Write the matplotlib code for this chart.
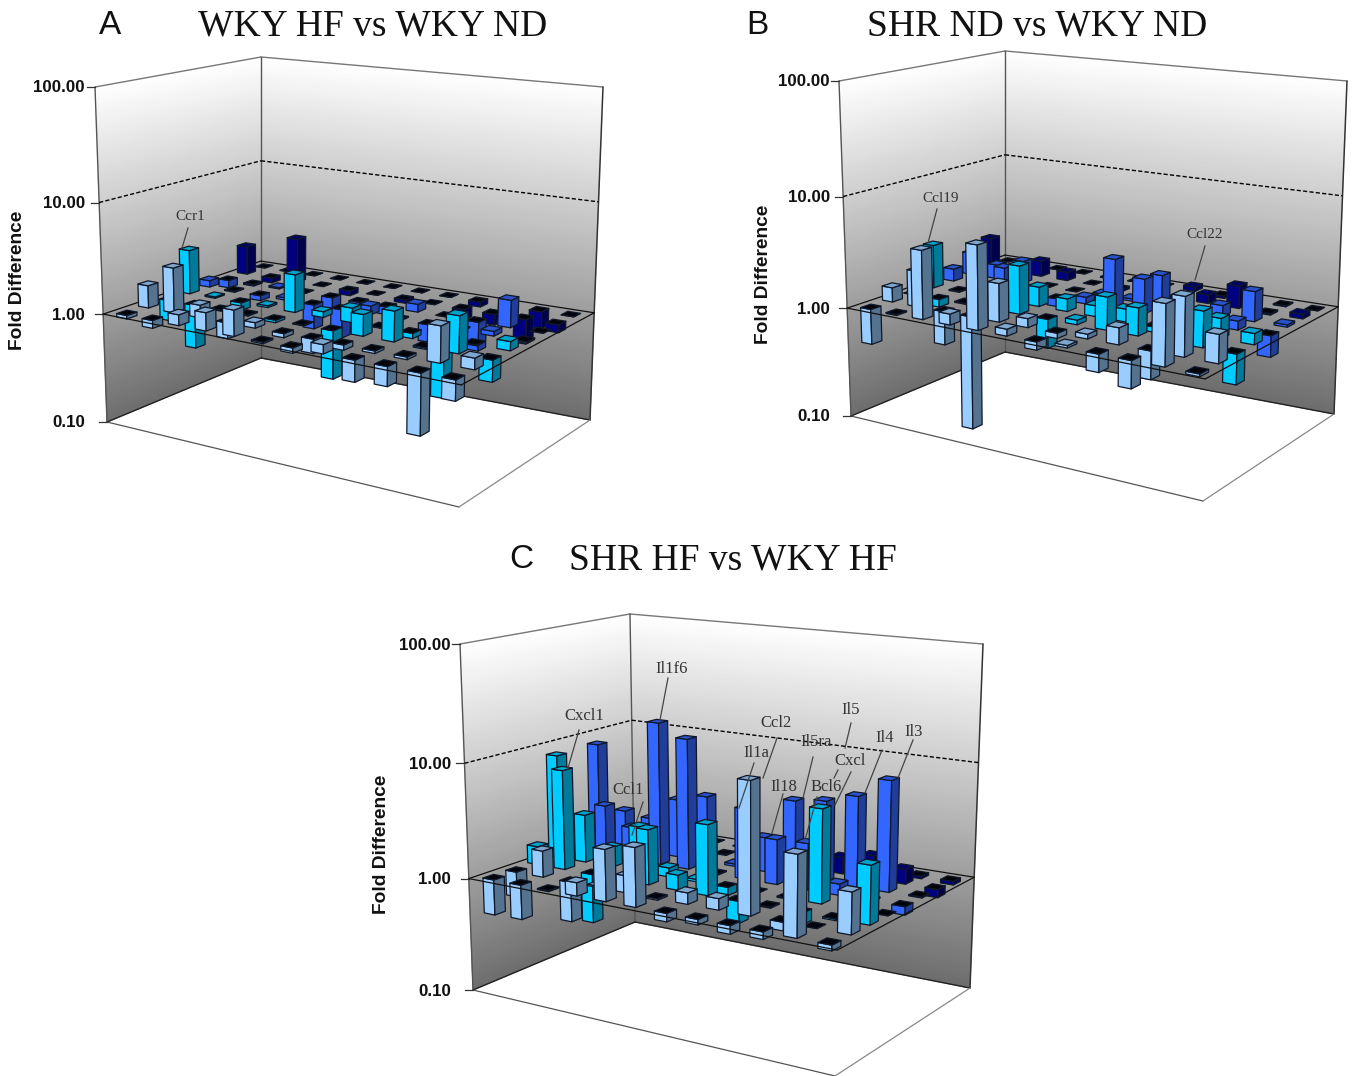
"""Three 3D-style fold-difference bar plates, drawn on one pixel-sized axes."""
import matplotlib

matplotlib.use("Agg")
import matplotlib.pyplot as plt
import numpy as np
from matplotlib.patches import Polygon

# rows run from the front of the plate (0) to the back (7), 12 wells per row
VALUES_A = [
    [.93, .85, 1.25, 1.45, 1.7, .97, .9, 1.2, .65, .68, .3, .67],
    [1.6, 2.55, 1.3, .72, 1.12, .92, .75, .9, .95, .95, 2.05, 1.25],
    [.65, .4, .98, .98, .95, .99, .37, 1.55, 1.85, .97, 2.1, .65],
    [2.55, 1.03, .85, 1.04, 2.2, 1.13, 1.35, .99, .9, .3, .98, 1.2],
    [1.15, .98, .9, 1.05, .6, .55, 1.2, .98, .7, .98, 1.1, .97],
    [.85, .97, 1.03, 1.0, .75, .92, .85, 1.18, 1.0, .55, 1.75, 1.0],
    [1.85, .9, 2.6, 1.0, .9, 1.0, .93, 1.0, .8, .8, .6, .85],
    [1.0, 1.0, 1.0, 1.0, 1.0, 1.0, 1.0, 1.0, .9, .9, .7, 1.0],
]
VALUES_B = [
    [.48, .98, 4.1, 1.25, 5.5, 1.15, .85, 1.05, .7, .58, 3.3, .95],
    [1.35, 2.1, .5, .095, 2.2, 1.2, .9, 1.1, 1.4, .57, 3.2, 1.75],
    [1.0, .85, 1.02, .98, 2.7, .55, 1.1, 1.95, 1.75, .98, 2.05, .55],
    [2.5, 1.02, .98, .98, 1.5, 1.3, 1.25, 1.3, .9, .98, 1.5, 1.25],
    [1.3, .98, 1.6, 1.05, .85, 1.15, 2.8, 2.05, .98, .98, 1.2, .65],
    [1.6, 1.35, 1.6, 1.0, 1.0, 1.05, 1.05, 1.9, 1.0, 1.25, 1.85, 1.05],
    [1.95, 1.0, 1.4, 1.2, 1.0, .95, 1.0, 1.0, 1.2, 1.6, .97, 1.1],
    [1.0, 1.0, 1.0, 1.0, .98, 1.0, 1.0, 1.1, .95, 1.0, .98, 1.0],
]
VALUES_C = [
    [.49, .5, .98, 1.3, 2.75, 3.15, .85, .9, .85, .87, 4.6, .9],
    [.6, 1.7, .45, 1.03, 1.4, .97, 1.25, 1.25, 12.6, .85, 1.0, 2.2],
    [1.45, 7.5, .37, .98, 3.0, 1.35, 4.0, .65, .98, .8, .97, 3.05],
    [8.3, 2.65, 1.5, 2.5, 1.2, 1.05, .85, 1.0, .98, 6.2, .98, 1.0],
    [.98, 2.8, 1.95, 18, 14, .98, 4.1, 2.45, 2.5, 1.25, .98, .85],
    [8.3, 2.2, 2.05, 3.3, 3.85, 1.05, 2.0, 4.6, 5.0, 6.0, 8.9, 1.02],
    [1.0, 1.0, 1.0, 1.0, .98, 1.0, 1.0, 1.0, 1.4, 1.6, 1.35, .85],
    [1.0, 1.0, 1.0, 1.0, 1.0, 1.0, 1.0, 1.0, 1.0, 1.0, .95, .93],
]
TICK_VALUES = [100.0, 10.0, 1.0, 0.1]
TITLES = ["WKY HF vs WKY ND", "SHR ND vs WKY ND", "SHR HF vs WKY HF"]
LETTERS = ["A", "B", "C"]
GENES_A = ["Ccr1"]
GENES_B = ["Ccl19", "Ccl22"]
GENES_C = ["Il1f6", "Cxcl1", "Ccl1", "Ccl2", "Il1a", "Il5ra", "Il18", "Il5", "Cxcl", "Il4", "Il3", "Bcl6"]

# bright, dark and top colours per pair of rows
ROW_COLORS = [
    ("#99CCFF", "#55738F", "#7FA6CC"),
    ("#00CCFF", "#007A99", "#00A3CC"),
    ("#3366FF", "#1F3D99", "#2A52CC"),
    ("#000080", "#00004D", "#000066"),
]

W, H = 1355, 1076
SERIF = "Liberation Serif"
SANS = "Liberation Sans"


def homography(corners):
    src = [(0, 0), (12, 0), (12, 8), (0, 8)]
    rows = []
    for (x, y), (px, py) in zip(src, corners):
        rows.append([x, y, 1, 0, 0, 0, -x * px, -y * px, -px])
        rows.append([0, 0, 0, x, y, 1, -x * py, -y * py, -py])
    _, _, vt = np.linalg.svd(np.array(rows, float))
    return vt[-1].reshape(3, 3)


class Box3D:
    """Maps well position and log height to picture pixels."""

    def __init__(self, floor, ceiling):
        self.hf = homography(floor)
        self.hc = homography(ceiling)

    def __call__(self, u, v, w):
        a = self.hf @ [u, v, 1]
        b = self.hc @ [u, v, 1]
        a, b = a[:2] / a[2], b[:2] / b[2]
        s = w / 3
        t = 0.95 * s / (1 - 0.05 * s)
        return a + (b - a) * t


def height(value):
    return np.log10(value) + 1


def line(ax, box, a, b, **kw):
    p, q = box(*a), box(*b)
    ax.plot([p[0], q[0]], [p[1], q[1]], solid_capstyle="round", **kw)


def draw_wall(ax, box, start, end):
    ws = np.linspace(0, 3, 40)
    pts = np.array([[box(*start, w), box(*end, w)] for w in ws])
    shade = np.array([[w, w] for w in ws])
    ax.pcolormesh(pts[..., 0], pts[..., 1], shade, cmap="gray", vmin=-2.26, vmax=3,
                  shading="gouraud", zorder=1, rasterized=True)


def draw_bar(ax, box, r, c, value, zorder):
    bright, dark, top = ROW_COLORS[r // 2]
    u0, u1 = c + 0.5 - 0.2, c + 0.5 + 0.2
    v0, v1 = r + 0.5 - 0.23, r + 0.5 + 0.23
    w = height(value)
    hi = max(w, 1)
    lo = min(w, 1)
    edge = "#101828"
    front = [box(u0, v0, lo), box(u1, v0, lo), box(u1, v0, hi), box(u0, v0, hi)]
    side = [box(u1, v0, lo), box(u1, v1, lo), box(u1, v1, hi), box(u1, v0, hi)]
    cap = [box(u0, v0, hi), box(u1, v0, hi), box(u1, v1, hi), box(u0, v1, hi)]
    cap_color = top if value > 1.02 else "#03030A"
    for poly, color in ((front, bright), (side, dark), (cap, cap_color)):
        ax.add_patch(Polygon(poly, closed=True, facecolor=color, edgecolor=edge,
                             linewidth=0.9, joinstyle="round", zorder=zorder))


def draw_panel(ax, box, values, ylabel_xy, tick_right):
    # walls and floor
    draw_wall(ax, box, (0, 0), (0, 8))
    draw_wall(ax, box, (0, 8), (12, 8))
    for a, b in [((0, 0, 3), (0, 8, 3)), ((0, 8, 3), (12, 8, 3))]:
        line(ax, box, a, b, color="#777777", lw=1.0, zorder=2)
    for a, b in [((0, 0, 0), (0, 0, 3)), ((0, 8, 0), (0, 8, 3))]:
        line(ax, box, a, b, color="#555555", lw=1.0, zorder=2)
    line(ax, box, (12, 8, 0), (12, 8, 3), color="#333333", lw=1.1, zorder=2)
    for a, b in [((0, 0, 0), (0, 8, 0)), ((0, 8, 0), (12, 8, 0))]:
        line(ax, box, a, b, color="#222222", lw=1.0, zorder=2)
    line(ax, box, (0, 0, 0), (12, 0, 0), color="#555555", lw=0.9, zorder=2)
    line(ax, box, (12, 0, 0), (12, 8, 0), color="#888888", lw=0.9, zorder=2)
    for a, b in [((0, 0, 2), (0, 8, 2)), ((0, 8, 2), (12, 8, 2))]:
        p, q = box(*a), box(*b)
        ax.plot([p[0], q[0]], [p[1], q[1]], color="black", lw=1.0, ls=(0, (3, 1.6)), zorder=2)

    # plate at fold difference 1
    line(ax, box, (0, 0, 1), (0, 8, 1), color="#111111", lw=0.9, zorder=3)
    line(ax, box, (0, 8, 1), (12, 8, 1), color="#111111", lw=0.9, zorder=3)

    # back to front, then left to right, so nearer bars cover farther ones
    order = 10
    for r in range(7, -1, -1):
        for c in range(12):
            draw_bar(ax, box, r, c, values[r][c], order)
            order += 1

    line(ax, box, (0, 0, 1), (12, 0, 1), color="#111111", lw=0.9, zorder=order)
    line(ax, box, (12, 0, 1), (12, 8, 1), color="#111111", lw=0.9, zorder=order)

    # value axis
    for value in TICK_VALUES:
        p = box(0, 0, height(value))
        ax.plot([p[0] - 8, p[0]], [p[1], p[1]], color="#333333", lw=0.9, zorder=2)
        ax.text(tick_right, p[1] + 1, f"{value:.2f}", ha="right", va="center",
                fontsize=12.2, fontweight="bold", family=SANS, color="#111111")
    ax.text(*ylabel_xy, "Fold Difference", rotation=90, ha="center", va="center",
            fontsize=13.8, fontweight="bold", family=SANS, color="#111111")


def annotate_gene(ax, name, text_xy, start, end, size):
    ax.text(*text_xy, name, ha="center", va="center", fontsize=size, family=SERIF,
            color="#333333", zorder=1000)
    ax.plot([start[0], end[0]], [start[1], end[1]], color="#444444", lw=0.9, zorder=1000)


def main() -> None:
    fig = plt.figure(figsize=(W / 100, H / 100), dpi=100)
    ax = fig.add_axes([0, 0, 1, 1])
    ax.set_xlim(0, W)
    ax.set_ylim(H, 0)
    ax.axis("off")

    floor_a = [(107, 422), (459, 507), (590, 420), (261, 358)]
    ceil_a = [(95, 87), (466, 128), (603, 87), (261, 57)]
    floor_b = [(x + 744, y - 6) for x, y in floor_a]
    ceil_b = [(x + 744, y - 6) for x, y in ceil_a]
    floor_c = [(473, 990), (835, 1076), (970, 988), (635, 922)]
    ceil_c = [(460, 644), (842, 685), (983, 644), (630, 614)]

    draw_panel(ax, Box3D(floor_a, ceil_a), VALUES_A, (18, 280), 85)
    draw_panel(ax, Box3D(floor_b, ceil_b), VALUES_B, (763, 274), 830)
    draw_panel(ax, Box3D(floor_c, ceil_c), VALUES_C, (381, 844), 451)

    letter_xy = [(110, 25), (757, 25), (521, 559)]
    title_xy = [(373, 26), (1037, 26), (733, 560)]
    for letter, lxy, title, txy in zip(LETTERS, letter_xy, TITLES, title_xy):
        ax.text(*lxy, letter, ha="center", va="center", fontsize=24, family=SANS, color="#111111")
        ax.text(*txy, title, ha="center", va="center", fontsize=27, family=SERIF, color="#111111")

    placements = {
        "Ccr1": ((190, 217), (188, 228), (182, 248)),
        "Ccl19": ((941, 199), (937, 209), (928, 243)),
        "Ccl22": ((1205, 235), (1205, 246), (1195, 280)),
        "Il1f6": ((672, 669), (668, 678), (660, 720)),
        "Cxcl1": ((584, 716), (579, 730), (568, 768)),
        "Ccl1": ((628, 790), (643, 802), (632, 835)),
        "Ccl2": ((776, 723), (777, 738), (763, 778)),
        "Il1a": ((756, 753), (754, 763), (739, 808)),
        "Il5ra": ((816, 742), (813, 757), (803, 798)),
        "Il18": ((784, 787), (783, 794), (772, 833)),
        "Il5": ((851, 710), (851, 723), (845, 748)),
        "Cxcl": ((850, 761), (851, 772), (835, 805)),
        "Il4": ((885, 738), (882, 750), (865, 793)),
        "Il3": ((914, 732), (913, 740), (898, 778)),
        "Bcl6": ((826, 787), (817, 797), (805, 840)),
    }
    for name in GENES_A + GENES_B:
        annotate_gene(ax, name, *placements[name], 11)
    for name in GENES_C:
        annotate_gene(ax, name, *placements[name], 12)
    # the Il5 leader picks up again under the Cxcl label
    ax.plot([838, 834], [770, 778], color="#444444", lw=0.9, zorder=1000)

    fig.savefig("out.png", dpi=100)
    plt.close(fig)


if __name__ == "__main__":
    main()
